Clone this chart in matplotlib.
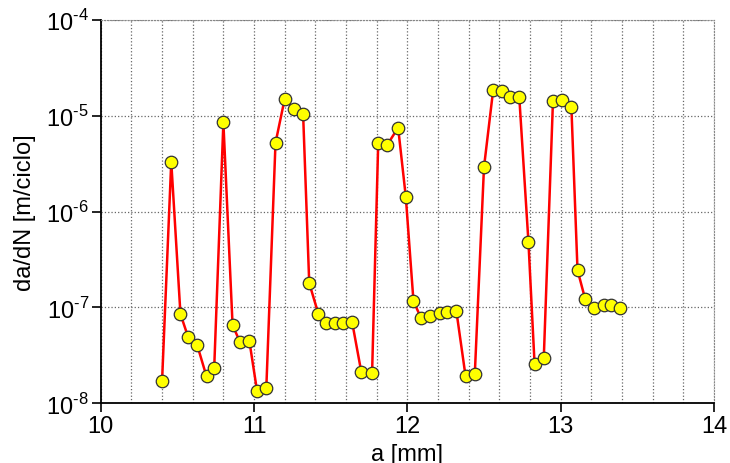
import matplotlib
matplotlib.use("Agg")
import matplotlib.pyplot as plt
from matplotlib.ticker import MultipleLocator, LogLocator, NullLocator, FuncFormatter
import numpy as np

plt.rcParams["font.family"] = ["Liberation Sans", "DejaVu Sans"]
plt.rcParams["mathtext.fontset"] = "custom"
plt.rcParams["mathtext.rm"] = "Liberation Sans"

# crack length [mm] and growth rate [m/cycle]
a_mm = [10.40, 10.46, 10.52, 10.57, 10.63, 10.69, 10.74, 10.80, 10.86, 10.91,
        10.97, 11.02, 11.08, 11.14, 11.20, 11.26, 11.32, 11.36, 11.42, 11.47,
        11.53, 11.58, 11.64, 11.70, 11.77, 11.81, 11.87, 11.94, 11.99, 12.04,
        12.09, 12.15, 12.21, 12.26, 12.32, 12.38, 12.44, 12.50, 12.56, 12.62,
        12.67, 12.73, 12.79, 12.83, 12.89, 12.95, 13.01, 13.07, 13.11, 13.16,
        13.22, 13.28, 13.33, 13.39]
dadn = [1.7e-8, 3.3e-6, 8.5e-8, 4.9e-8, 4.0e-8, 1.9e-8, 2.3e-8, 8.5e-6, 6.5e-8, 4.3e-8,
        4.4e-8, 1.33e-8, 1.43e-8, 5.2e-6, 1.5e-5, 1.18e-5, 1.05e-5, 1.79e-7, 8.5e-8, 6.8e-8,
        6.8e-8, 6.8e-8, 7.0e-8, 2.1e-8, 2.05e-8, 5.2e-6, 5.0e-6, 7.5e-6, 1.42e-6, 1.16e-7,
        7.7e-8, 8.1e-8, 8.7e-8, 8.9e-8, 9.1e-8, 1.9e-8, 2.0e-8, 2.9e-6, 1.86e-5, 1.82e-5,
        1.58e-5, 1.58e-5, 4.8e-7, 2.55e-8, 2.95e-8, 1.43e-5, 1.47e-5, 1.24e-5, 2.45e-7, 1.22e-7,
        9.8e-8, 1.05e-7, 1.05e-7, 9.8e-8]


def pow10_label(v, pos):
    # "10" followed by a superscript exponent written with a plain hyphen
    e = int(round(np.log10(v)))
    return r"$\mathrm{10}^{\mathrm{\text{%s}}}$" % str(e)


fig = plt.figure(figsize=(7.3, 4.64), dpi=100)
ax = fig.add_axes([0.138, 0.129, 0.84, 0.826])

ax.plot(a_mm, dadn, color="red", lw=1.8, marker="o", markersize=9,
        markerfacecolor="yellow", markeredgecolor="#333333", markeredgewidth=0.9, zorder=3)

ax.set_yscale("log")
ax.set_xlim(10, 14)
ax.set_ylim(1e-8, 1e-4)
ax.xaxis.set_major_locator(MultipleLocator(1))
ax.xaxis.set_minor_locator(MultipleLocator(0.2))
ax.yaxis.set_major_locator(LogLocator(base=10, numticks=10))
ax.yaxis.set_minor_locator(NullLocator())
ax.yaxis.set_major_formatter(FuncFormatter(pow10_label))

# dotted grid, minor x lines included
ax.grid(which="major", axis="both", color="#666666", ls=":", lw=0.9)
ax.grid(which="minor", axis="x", color="#666666", ls=":", lw=0.9)
ax.tick_params(which="minor", length=0)
ax.tick_params(which="major", direction="out", length=6.5, width=1.2, labelsize=17, pad=2)

for side in ["top", "right"]:
    ax.spines[side].set_color("#888888")
    ax.spines[side].set_linestyle(":")
for side in ["left", "bottom"]:
    ax.spines[side].set_linewidth(1.3)

ax.set_xlabel("a [mm]", fontsize=17, labelpad=4)
ax.set_ylabel("da/dN [m/ciclo]", fontsize=17, labelpad=7)

fig.savefig("out.png", dpi=100)
plt.close(fig)
